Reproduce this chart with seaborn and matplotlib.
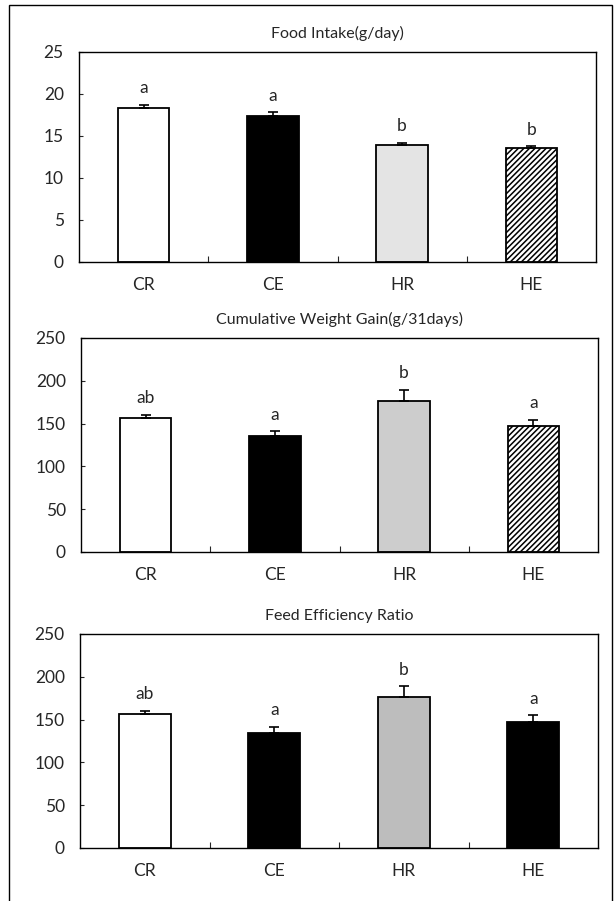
import numpy as np
import pandas as pd
import matplotlib
matplotlib.use("Agg")
import matplotlib.pyplot as plt
import seaborn as sns
from matplotlib.patches import Rectangle

groups = ["CR", "CE", "HR", "HE"]

food_intake = [18.35, 17.35, 13.95, 13.5]
food_intake_err = [0.3, 0.45, 0.2, 0.25]
food_letters = ["a", "a", "b", "b"]

weight_gain = [156, 135, 176.5, 147.5]
weight_gain_err = [4, 6, 13, 7]
weight_letters = ["ab", "a", "b", "a"]

feed_eff = [156, 134.5, 176.5, 147.5]
feed_eff_err = [4, 7, 12.5, 7.5]
feed_letters = ["ab", "a", "b", "a"]

titles = ["Food Intake(g/day)", "Cumulative Weight Gain(g/31days)", "Feed Efficiency Ratio"]

sns.set_theme(style="white")
plt.rcParams['font.family'] = ['Lato', 'DejaVu Sans']
plt.rcParams['hatch.linewidth'] = 1.1

W, H = 614, 901
fig = plt.figure(figsize=(W / 100, H / 100), dpi=100)

# outer frame
fig.add_artist(Rectangle((9 / W, -0.01), (612 - 9) / W, 1 - 5 / H + 0.01,
                         transform=fig.transFigure, fill=False,
                         edgecolor="black", linewidth=1.0))

panels = [
    dict(vals=food_intake, err=food_intake_err, letters=food_letters,
         box=(79, 596, 51.7, 262), ylim=25, step=5,
         colors=["white", "black", "#e4e4e4", "white"], hatch=[None, None, None, "//////"]),
    dict(vals=weight_gain, err=weight_gain_err, letters=weight_letters,
         box=(81, 598, 338, 552), ylim=250, step=50,
         colors=["white", "black", "#cdcdcd", "white"], hatch=[None, None, None, "//////"]),
    dict(vals=feed_eff, err=feed_eff_err, letters=feed_letters,
         box=(80, 598, 634, 848), ylim=250, step=50,
         colors=["white", "black", "#bdbdbd", "black"], hatch=[None, None, None, None]),
]

for p, title in zip(panels, titles):
    x0, x1, y0, y1 = p["box"]
    ax = fig.add_axes([x0 / W, 1 - y1 / H, (x1 - x0) / W, (y1 - y0) / H])
    df = pd.DataFrame({"group": groups, "value": p["vals"]})
    sns.barplot(data=df, x="group", y="value", ax=ax, width=0.40,
                color="white", edgecolor="black", linewidth=1.3, errorbar=None)
    for patch, c, h in zip(ax.patches, p["colors"], p["hatch"]):
        patch.set_facecolor(c)
        if h:
            patch.set_hatch(h)
    xs = np.arange(len(groups))
    ax.errorbar(xs, p["vals"], yerr=[np.zeros(len(groups)), p["err"]],
                fmt="none", ecolor="black", elinewidth=1.2, capsize=3.5, capthick=1.2)
    for xi, v, e, lab in zip(xs, p["vals"], p["err"], p["letters"]):
        ax.annotate(lab, (xi, v + e), xytext=(0, 12), textcoords="offset points",
                    ha="center", va="center", fontsize=12.5)
    ax.set_xlim(-0.5, 3.5)
    ax.set_ylim(0, p["ylim"])
    ax.set_yticks(np.arange(0, p["ylim"] + 1, p["step"]))
    ax.set_xlabel("")
    ax.set_ylabel("")
    ax.set_xticks(xs)
    ax.set_xticklabels(groups, fontsize=12.5)
    ax.set_xticks([0.5, 1.5, 2.5], minor=True)
    ax.tick_params(axis="x", which="major", length=0, pad=11)
    ax.tick_params(axis="x", which="minor", direction="in", length=4, width=0.8, bottom=True)
    ax.tick_params(axis="y", direction="in", length=3, width=0.8, left=True, pad=11, labelsize=12.5)
    for s in ax.spines.values():
        s.set_visible(True)
        s.set_color("black")
        s.set_linewidth(1.0)
    ax.set_title(title, fontsize=11.5, pad=10)
    ax.set_facecolor("white")

fig.savefig("out.png", dpi=100, facecolor="white")
